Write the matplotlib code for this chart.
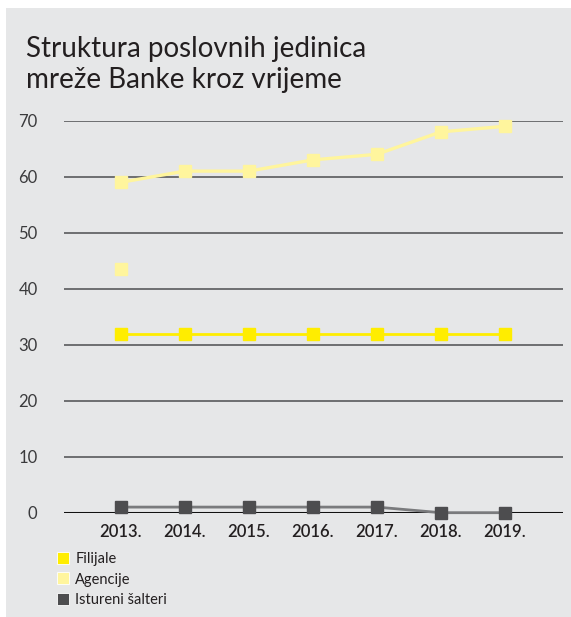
import matplotlib
matplotlib.use("Agg")
import matplotlib.pyplot as plt
from matplotlib.patches import Rectangle
from matplotlib.lines import Line2D

years = ["2013.", "2014.", "2015.", "2016.", "2017.", "2018.", "2019."]
filijale = [32, 32, 32, 32, 32, 32, 32]
agencije = [59, 61, 61, 63, 64, 68, 69]
agencije_extra = [43.5]          # stray marker at 2013 in the source
istureni = [1, 1, 1, 1, 1, 0, 0]
yticks = [0, 10, 20, 30, 40, 50, 60, 70]

BG = "#e6e7e8"
TXT = "#231f20"
C_FIL = "#ffed00"
C_AGE = "#fff59d"
C_IST = "#4d4d4f"
C_IST_LINE = "#7a7b7d"

plt.rcParams["font.family"] = ["Lato", "DejaVu Sans"]

W, H = 571, 617
fig = plt.figure(figsize=(W / 100, H / 100), dpi=100)
fig.patch.set_facecolor("white")
fig.patches.append(Rectangle((6 / W, 0), 1, 1 - 8 / H, transform=fig.transFigure,
                             facecolor=BG, edgecolor="none", zorder=-10))

fig.text(26 / W, 1 - 57 / H, "Struktura poslovnih jedinica", fontsize=20,
         color=TXT, va="baseline", ha="left")
fig.text(26 / W, 1 - 88 / H, "mreže Banke kroz vrijeme", fontsize=20,
         color=TXT, va="baseline", ha="left")

left, right = 64 / W, 563 / W
bottom, top = (H - 512.7) / H, (H - 120.7) / H
ax = fig.add_axes([left, bottom, right - left, top - bottom])
ax.set_zorder(1)
ax.set_facecolor("none")
x = list(range(len(years)))

for t in yticks[1:]:
    ax.axhline(t, color="#6d6e70", lw=1.4, zorder=1)
ax.axhline(0, color="#111111", lw=2.2, zorder=2)

ms = 8.8
ax.plot(x, istureni, color=C_IST_LINE, lw=2, zorder=3, clip_on=False)
ax.plot(x, istureni, ls="none", marker="s", ms=ms, color=C_IST, zorder=4, clip_on=False)
ax.plot(x, filijale, color=C_FIL, lw=2, marker="s", ms=ms, zorder=5, clip_on=False)
ax.plot(x, agencije, color=C_AGE, lw=2.4, marker="s", ms=ms, zorder=5, clip_on=False)
ax.plot(x[:1], agencije_extra, ls="none", marker="s", ms=ms, color=C_AGE, zorder=5)

ax.set_xlim(-0.89, 6.91)
ax.set_ylim(0, 70)
ax.set_yticks(yticks)
ax.set_yticklabels([str(t) for t in yticks], fontsize=12, color="#3a3a3c")
ax.set_xticks(x)
ax.set_xticklabels(years, fontsize=12, color=TXT, fontweight="semibold")
ax.tick_params(length=0)
ax.tick_params(axis="y", pad=19)
ax.tick_params(axis="x", pad=8)
for s in ax.spines.values():
    s.set_visible(False)

handles = [
    Line2D([], [], ls="none", marker="s", ms=8, color=C_FIL, markeredgecolor="white", markeredgewidth=0.6),
    Line2D([], [], ls="none", marker="s", ms=8, color=C_AGE, markeredgecolor="white", markeredgewidth=0.6),
    Line2D([], [], ls="none", marker="s", ms=8, color=C_IST, markeredgecolor="white", markeredgewidth=0.6),
]
fig.legend(handles, ["Filijale", "Agencije", "Istureni šalteri"], loc="upper left",
           bbox_to_anchor=(57 / W, 1 - 552 / H), frameon=False, fontsize=10.5,
           labelcolor=TXT, handlelength=0.8, handletextpad=0.45, labelspacing=0.45,
           borderpad=0, borderaxespad=0)

fig.savefig("out.png", dpi=100, facecolor="white")
